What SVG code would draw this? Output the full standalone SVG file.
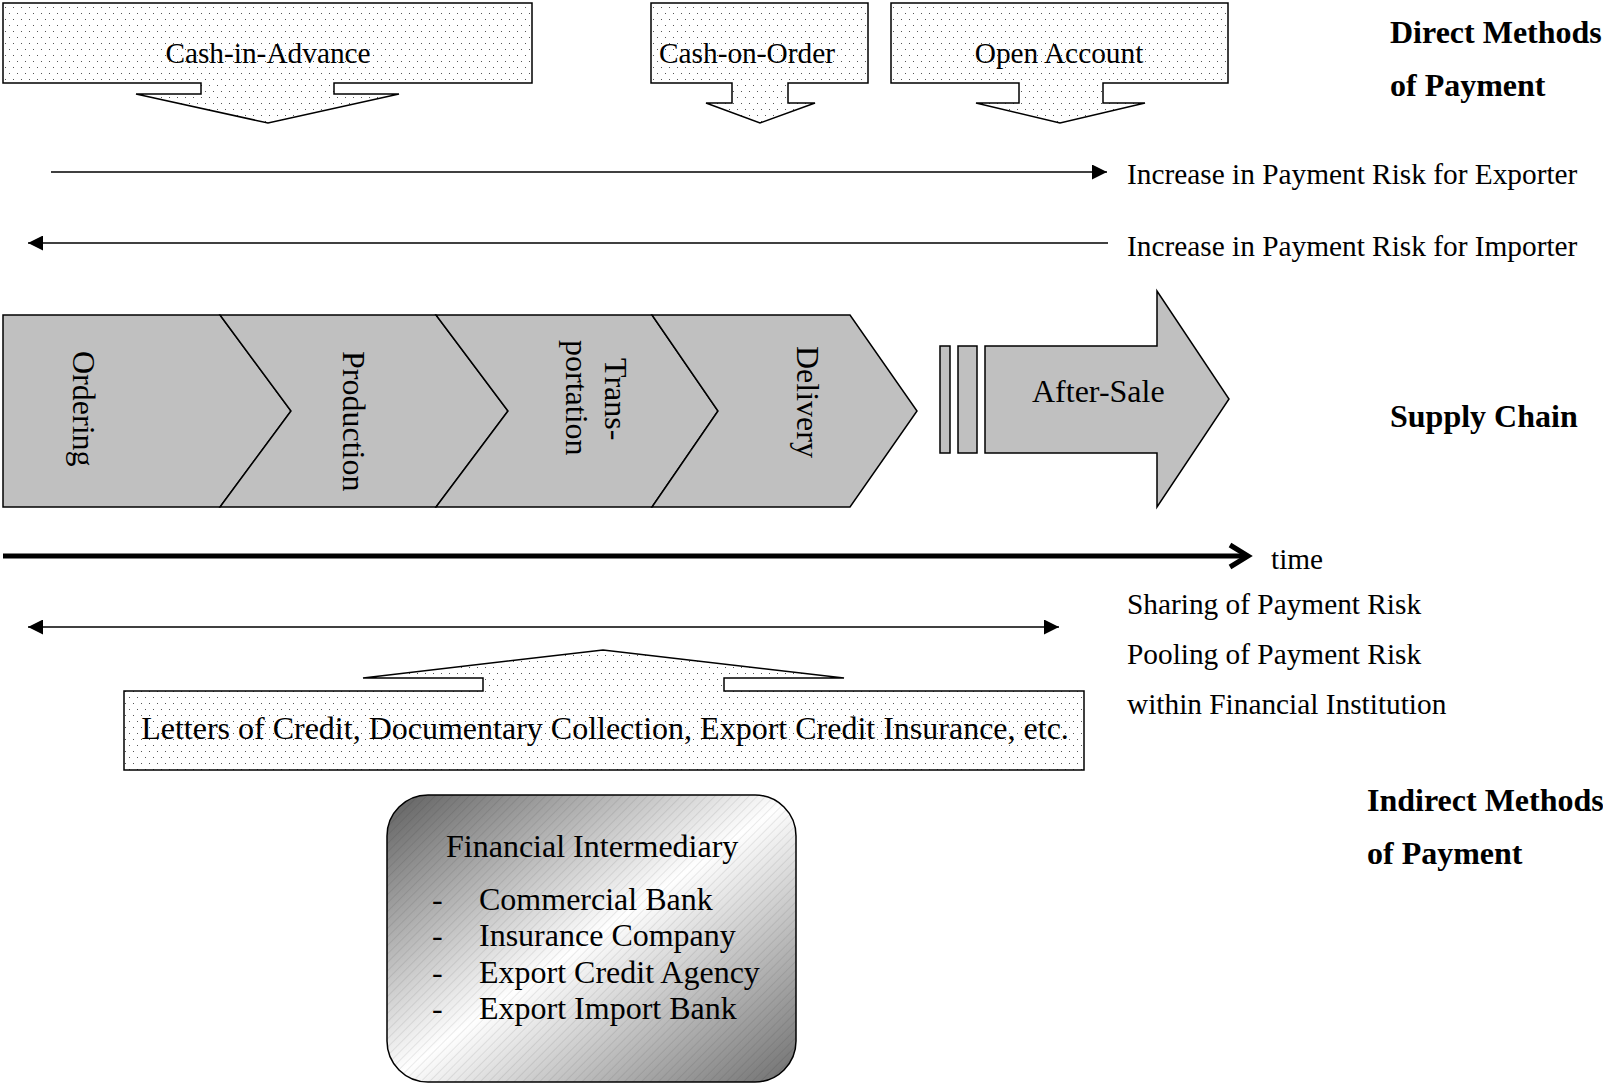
<svg xmlns="http://www.w3.org/2000/svg" width="1603" height="1084" viewBox="0 0 1603 1084">
<style>
text{font-family:"Liberation Serif","Times New Roman",serif;fill:#000}
.t22{font-size:29.33px}
.t24{font-size:32px}
.b{font-size:32px;font-weight:bold}
.dot{fill:url(#dots);stroke:#000;stroke-width:1.5}
.sc{fill:#c0c0c0;stroke:#000;stroke-width:1.5}
.ln{stroke:#000;stroke-width:1.6;fill:none}
</style>
<defs>
<pattern id="dots" width="8" height="12" patternUnits="userSpaceOnUse">
<rect width="8" height="12" fill="#fff"/>
<rect x="1" y="1" width="1" height="1" fill="#555"/>
<rect x="5" y="7" width="1" height="1" fill="#555"/>
</pattern>
<linearGradient id="fg" x1="0" y1="0" x2="1" y2="1">
<stop offset="0" stop-color="#5e5e5e"/>
<stop offset="0.5" stop-color="#ffffff"/>
<stop offset="1" stop-color="#6e6e6e"/>
</linearGradient>
<pattern id="hatch" width="6" height="6" patternUnits="userSpaceOnUse" patternTransform="rotate(-45)">
<rect x="0" y="0" width="6" height="1" fill="#000" fill-opacity="0.08"/>
</pattern>
<marker id="ah" viewBox="0 0 15 15" refX="15" refY="7.5" markerWidth="15" markerHeight="15" markerUnits="userSpaceOnUse" orient="auto-start-reverse">
<path d="M0,0 L15,7.5 L0,15 Z" fill="#000"/>
</marker>
</defs>

<g id="cash-in-advance">
<path class="dot" d="M3,3 H532 V83 H334 V94 H399 L268,123 L136,94 H201 V83 H3 Z"/>
<text class="t22" x="268" y="63" text-anchor="middle">Cash-in-Advance</text>
</g>
<g id="cash-on-order">
<path class="dot" d="M651,3 H868 V83 H788 V103 H815 L760,123 L706,103 H732 V83 H651 Z"/>
<text class="t22" x="659" y="63">Cash-on-Order</text>
</g>
<g id="open-account">
<path class="dot" d="M891,3 H1228 V83 H1103 V103 H1145 L1060,123 L976,103 H1019 V83 H891 Z"/>
<text class="t22" x="1059" y="63" text-anchor="middle">Open Account</text>
</g>

<g id="title-direct">
<text class="b" x="1390" y="43">Direct Methods</text>
<text class="b" x="1390" y="96">of Payment</text>
</g>

<g id="connectors">
<line class="ln" x1="51" y1="172" x2="1107" y2="172" marker-end="url(#ah)"/>
<line class="ln" x1="1108" y1="243" x2="28" y2="243" marker-end="url(#ah)"/>
<line x1="3" y1="556" x2="1246" y2="556" stroke="#000" stroke-width="5"/>
<polyline points="1230,545 1248,556 1230,567" fill="none" stroke="#000" stroke-width="5" stroke-linejoin="miter"/>
<line class="ln" x1="28" y1="627" x2="1059" y2="627" marker-start="url(#ah)" marker-end="url(#ah)"/>
</g>

<g id="labels-risk">
<text class="t22" x="1127" y="184">Increase in Payment Risk for Exporter</text>
<text class="t22" x="1127" y="256">Increase in Payment Risk for Importer</text>
<text class="t22" x="1271" y="569">time</text>
<text class="t22" x="1127" y="614">Sharing of Payment Risk</text>
<text class="t22" x="1127" y="664">Pooling of Payment Risk</text>
<text class="t22" x="1127" y="714">within Financial Institution</text>
</g>

<g id="ordering">
<path class="sc" d="M3,315 H220 L291,411 L220,507 H3 Z"/>
<text class="t24" transform="translate(73,351) rotate(90)">Ordering</text>
</g>
<g id="production">
<path class="sc" d="M220,315 H436 L508,411 L436,507 H220 L291,411 Z"/>
<text class="t24" transform="translate(343,351) rotate(90)">Production</text>
</g>
<g id="transportation">
<path class="sc" d="M436,315 H652 L718,411 L652,507 H436 L508,411 Z"/>
<text class="t24" transform="translate(605,358) rotate(90)">Trans-</text>
<text class="t24" transform="translate(566,340) rotate(90)">portation</text>
</g>
<g id="delivery">
<path class="sc" d="M652,315 H850 L917,411 L850,507 H652 L718,411 Z"/>
<text class="t24" transform="translate(797,346) rotate(90)">Delivery</text>
</g>
<g id="after-sale">
<rect class="sc" x="940" y="346" width="10" height="107"/>
<rect class="sc" x="958" y="346" width="19" height="107"/>
<path class="sc" d="M985,346 H1157 V291 L1229,399 L1157,507 V453 H985 Z"/>
<text class="t24" x="1032" y="402">After-Sale</text>
</g>

<g id="title-supply">
<text class="b" x="1390" y="427">Supply Chain</text>
</g>

<g id="indirect-instruments">
<path class="dot" d="M124,691 H483 V678 H363 L603,650 L844,678 H724 V691 H1084 V770 H124 Z"/>
<text class="t24" x="605" y="739" text-anchor="middle">Letters of Credit, Documentary Collection, Export Credit Insurance, etc.</text>
</g>

<g id="title-indirect">
<text class="b" x="1367" y="811">Indirect Methods</text>
<text class="b" x="1367" y="864">of Payment</text>
</g>

<g id="financial-intermediary">
<rect x="387" y="795" width="409" height="287" rx="41" ry="41" fill="url(#fg)"/>
<rect x="387" y="795" width="409" height="287" rx="41" ry="41" fill="url(#hatch)" stroke="#000" stroke-width="1.5"/>
<text class="t24" x="446" y="857">Financial Intermediary</text>
<text class="t24" x="432" y="910">-</text>
<text class="t24" x="479" y="910">Commercial Bank</text>
<text class="t24" x="432" y="946">-</text>
<text class="t24" x="479" y="946">Insurance Company</text>
<text class="t24" x="432" y="983">-</text>
<text class="t24" x="479" y="983">Export Credit Agency</text>
<text class="t24" x="432" y="1019">-</text>
<text class="t24" x="479" y="1019">Export Import Bank</text>
</g>
</svg>
